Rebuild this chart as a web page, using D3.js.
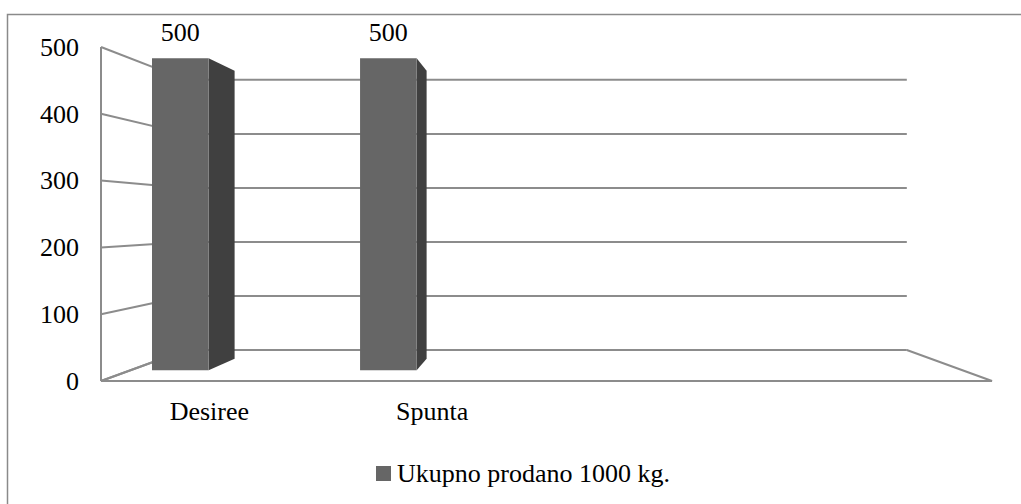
<!DOCTYPE html>
<html>
<head>
<meta charset="utf-8">
<script src="https://cdn.jsdelivr.net/npm/d3@7"></script>
<style>
  body { margin: 0; background: #fff; }
  text { font-family: "Liberation Serif", "Times New Roman", serif; fill: #000; }
</style>
</head>
<body>
<script>
var width = 1021,
    height = 504;

// data
var categories = ["Desiree", "Spunta", "", ""];
var values = [500, 500, null, null];
var ticks = [0, 100, 200, 300, 400, 500];
var seriesName = "Ukupno prodano 1000 kg.";

// perspective: vanishing point and depth scales (1 = front plane)
var vx = 546, vy = 219;
var sFront = 1, sBack = 0.809, sBarFront = 0.934, sBarBack = 0.862;

function proj(X, Y, s) {
  return [vx + s * (X - vx), vy + s * (Y - vy)];
}

// index domain, because the empty categories share the same name
var x = d3.scaleBand()
    .domain(d3.range(categories.length))
    .range([101, 992]);

var y = d3.scaleLinear()
    .domain([0, 500])
    .range([381, 47]);

var svg = d3.select("body").append("svg")
    .attr("width", width)
    .attr("height", height);

// outer frame
svg.append("rect")
    .attr("x", 7.5).attr("y", 14.5)
    .attr("width", width + 10).attr("height", height + 10)
    .attr("fill", "none")
    .attr("stroke", "#8a8a8a")
    .attr("stroke-width", 1.5);

var line = d3.line();
var grid = svg.append("g")
    .attr("fill", "none")
    .attr("stroke", "#8c8c8c")
    .attr("stroke-width", 2);

var xl = x.range()[0], xr = x.range()[1];

// back wall gridlines + left wall lines
ticks.forEach(function(t) {
  grid.append("path")
      .attr("d", line([proj(xl, y(t), sBack), proj(xr, y(t), sBack)]));
  grid.append("path")
      .attr("d", line([proj(xl, y(t), sFront), proj(xl, y(t), sBack)]));
});

// floor
grid.append("path")
    .attr("d", line([proj(xl, y(0), sBack), proj(xl, y(0), sFront), proj(xr, y(0), sFront), proj(xr, y(0), sBack)]));

// left wall front edge
grid.append("path")
    .attr("d", line([proj(xl, y(0), sFront), proj(xl, y(500), sFront)]));

// bars
var bw = x.bandwidth();
var bars = svg.selectAll(".bar")
    .data(categories.map(function(c, i) { return { i: i, v: values[i] }; })
      .filter(function(d) { return d.v != null; }))
  .enter().append("g")
    .attr("class", "bar");

function barX0(d) { return x(d.i) + bw * 0.104; }
function barX1(d) { return x(d.i) + bw * 0.376; }

bars.append("path")
    .attr("fill", "#404040")
    .attr("d", function(d) {
      var X = barX1(d);
      return line([proj(X, y(d.v), sBarFront), proj(X, y(d.v), sBarBack),
                   proj(X, y(0), sBarBack), proj(X, y(0), sBarFront)]) + "Z";
    });

bars.append("path")
    .attr("fill", "#666666")
    .attr("d", function(d) {
      var X0 = barX0(d), X1 = barX1(d);
      return line([proj(X0, y(d.v), sBarFront), proj(X1, y(d.v), sBarFront),
                   proj(X1, y(0), sBarFront), proj(X0, y(0), sBarFront)]) + "Z";
    });

bars.append("text")
    .attr("text-anchor", "middle")
    .attr("font-size", "26px")
    .attr("x", function(d) { return proj((barX0(d) + barX1(d)) / 2, 0, sBarFront)[0]; })
    .attr("y", function(d) { return proj(0, y(d.v), sBarFront)[1] - 17; })
    .text(function(d) { return d.v; });

// y axis labels
var yAxis = d3.axisLeft(y).tickValues(ticks).tickSize(0).tickPadding(22);
var ya = svg.append("g")
    .attr("transform", "translate(" + xl + ",0)")
    .call(yAxis);
ya.select(".domain").remove();
ya.selectAll("text")
    .attr("font-family", "Liberation Serif, Times New Roman, serif")
    .attr("font-size", "26px")
    .attr("fill", "#000");

// category labels
svg.selectAll(".cat")
    .data(categories)
  .enter().append("text")
    .attr("class", "cat")
    .attr("text-anchor", "middle")
    .attr("font-size", "26px")
    .attr("x", function(d, i) { return x(i) + bw / 2 - 3; })
    .attr("y", 420)
    .text(function(d) { return d; });

// legend
var legend = svg.append("g").attr("transform", "translate(376,466)");
legend.append("rect")
    .attr("width", 15).attr("height", 15)
    .attr("fill", "#666666");
legend.append("text")
    .attr("x", 21).attr("y", 16)
    .attr("font-size", "26px")
    .text(seriesName);
</script>
</body>
</html>
